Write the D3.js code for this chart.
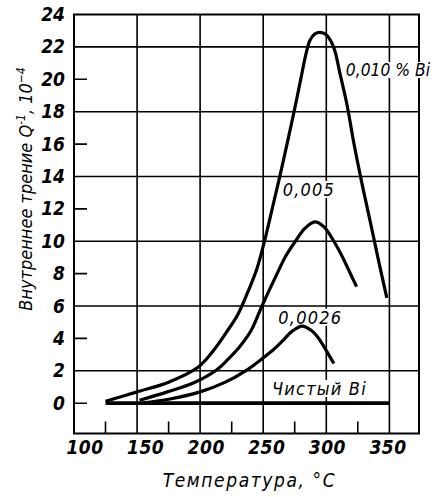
<!DOCTYPE html>
<html><head><meta charset="utf-8">
<script src="https://cdn.jsdelivr.net/npm/d3@7/dist/d3.min.js"></script>
<style>
html,body{margin:0;padding:0;background:#fff;}
svg{display:block;}
</style></head>
<body>
<svg id="chart" width="434" height="497"></svg>
<script>
// ---- data ----
const temp010 = [125,150,175,198,210,221,230,238,245,251,258,264,270,275,280,284,287,291,295,300,304,307,311,316.5,322,329,336,342,348];
const q010    = [0.12,0.7,1.3,2.2,3.2,4.4,5.5,6.9,8.3,10,12.3,14.3,16.4,18.2,20.1,21.6,22.4,22.8,22.9,22.75,22.3,21.7,20.3,18.4,16,13.3,10.8,8.6,6.5];
const temp005 = [152,174,195,213,222,231,240.5,249,261,268,275.5,283,291,298,306,313,318.5,324];
const q005    = [0.18,0.7,1.26,2.05,2.7,3.45,4.5,6.0,8.0,9.1,10,10.8,11.2,10.9,10,9.0,8.1,7.2];
const temp0026 = [155,174,200,220,236,250,258,266,273,281,288,294,300,306];
const q0026    = [0.03,0.23,0.7,1.3,2.0,2.8,3.3,3.9,4.45,4.76,4.5,4.0,3.25,2.45];
const tempPure = [125,350];
const qPure    = [0,0];
const seriesNames = ["0,010 % Bi","0,005","0,0026","Чистый Bi"];
const xTickLabels = [100,150,200,250,300,350];
const yTickLabels = [0,2,4,6,8,10,12,14,16,18,20,22,24];
const xGrid = [150,200,250,300,350];
const yGrid = [2,6,10,14,18,22];
const xMinor = [125,175,225,275,325];
const yMinor = [0,4,8,12,16,20];
const xTitle = "Температура, °С";

// ---- layout ----
const X0 = 74, X1 = 419, Y0 = 14.5, Y1 = 433.5;
const svg = d3.select("#chart");
const x = d3.scaleLinear().domain([100,373.5]).range([X0,X1]);
const xl = d3.scaleLinear().domain([100,350]).range([84.5,387.5]);
const y = d3.scaleLinear().domain([-1.87,24]).range([Y1,Y0]);

const font = '"DejaVu Sans Condensed","DejaVu Sans",sans-serif';

// frame
svg.append("path").attr("d",`M${X0},${Y0}H${X1}V${Y1}H${X0}Z`)
  .attr("fill","none").attr("stroke","#000").attr("stroke-width",2);

// gridlines and inner ticks: one combined path
let gd = "";
yGrid.forEach(d=>{ gd += `M${X0},${y(d).toFixed(1)}L${X1},${y(d).toFixed(1)}`; });
xGrid.forEach(d=>{ gd += `M${x(d).toFixed(1)},${Y0}L${x(d).toFixed(1)},${Y1}`; });
yMinor.forEach(d=>{ gd += `M${X0},${y(d).toFixed(1)}L${X0+13},${y(d).toFixed(1)}`; });
xMinor.forEach(d=>{ gd += `M${x(d).toFixed(1)},${Y1}L${x(d).toFixed(1)},${Y1-12}`; });
svg.append("path").attr("d",gd).attr("fill","none")
  .attr("stroke","#000").attr("stroke-width",1.6);

function clean(g){ g.select(".domain").remove(); }
// tick labels
const yAx = svg.append("g").attr("transform",`translate(${X0},0)`)
  .call(d3.axisLeft(y).tickValues(yTickLabels).tickSize(0).tickPadding(9));
yAx.call(clean);
yAx.selectAll("text").attr("font-family",font).attr("font-size",19)
  .attr("font-weight","bold").attr("font-style","italic").attr("fill","#000");
const xAx = svg.append("g").attr("transform",`translate(0,${Y1})`)
  .call(d3.axisBottom(xl).tickValues(xTickLabels).tickSize(0).tickPadding(6));
xAx.call(clean);
xAx.selectAll("text").attr("font-family",font).attr("font-size",19)
  .attr("font-weight","bold").attr("font-style","italic").attr("fill","#000")
  .attr("letter-spacing",0.5).attr("dy","0.75em");

// series labels with white knock-out boxes
const labelPos = [[315.5,20.2],[265.5,12.8],[262,4.9],[257,0.5]];
const labelSize = [17.3,18,18,18];
const labelSpacing = [0,1.2,1.2,1.2];
seriesNames.forEach((n,i)=>{
  const g = svg.append("g");
  const t = g.append("text").attr("x",x(labelPos[i][0])).attr("y",y(labelPos[i][1]))
    .attr("font-family",font).attr("font-size",labelSize[i]).attr("font-style","italic")
    .attr("letter-spacing",labelSpacing[i]).attr("fill","#000").text(n);
  const b = t.node().getBBox();
  g.insert("path","text")
    .attr("d",`M${b.x-2},${b.y+2}h${b.width+4}v${b.height-4}h${-(b.width+4)}Z`)
    .attr("fill","#fff");
});

// curves
const line = d3.line().x(d=>x(d[0])).y(d=>y(d[1])).curve(d3.curveCatmullRom.alpha(0.5));
const zip = (a,b)=>a.map((v,i)=>[v,b[i]]);
const series = [zip(temp010,q010), zip(temp005,q005), zip(temp0026,q0026), zip(tempPure,qPure)];
series.forEach((s,i)=>{
  svg.append("path").datum(s).attr("d",line).attr("fill","none")
    .attr("stroke","#000").attr("stroke-width", i===3?3.8:3.2).attr("stroke-linejoin","round");
});

// axis titles
svg.append("text").attr("x",(X0+X1)/2+3).attr("y",487).attr("text-anchor","middle")
  .attr("font-family",font).attr("font-size",19).attr("font-style","italic")
  .attr("letter-spacing",1.6).attr("fill","#000").text(xTitle);

const yt = svg.append("text").attr("transform","translate(32,189) rotate(-90)")
  .attr("text-anchor","middle").attr("font-family",font).attr("font-size",18)
  .attr("font-style","italic").attr("letter-spacing",0).attr("fill","#000");
yt.append("tspan").text("Внутреннее трение Q");
yt.append("tspan").attr("font-size",12).attr("dy",-7).text("-1");
yt.append("tspan").attr("dy",7).text(", 10");
yt.append("tspan").attr("font-size",12).attr("dy",-7).text("−4");
</script>
</body></html>
